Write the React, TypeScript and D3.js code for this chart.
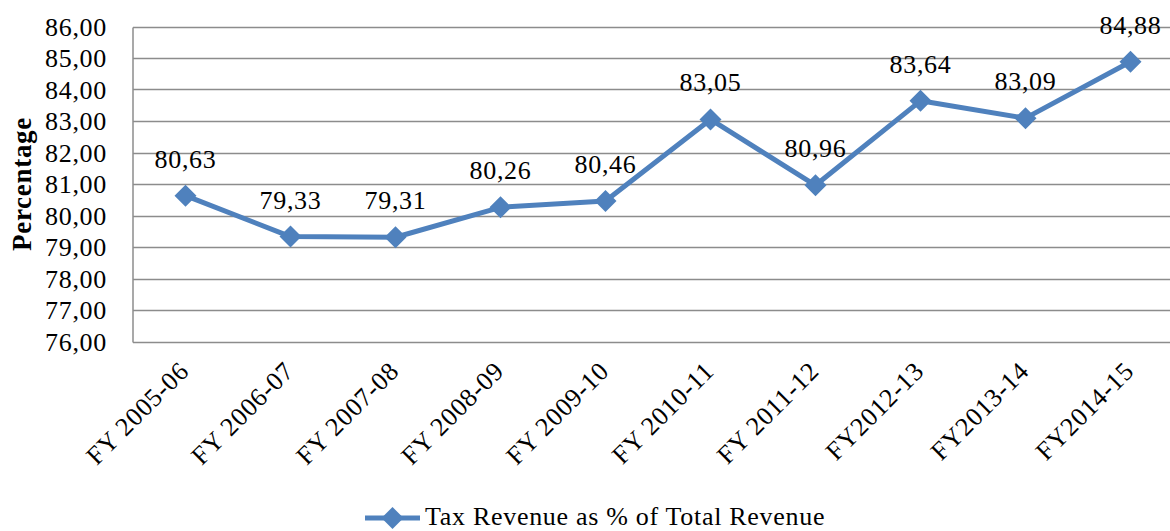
import { useRef, useEffect } from 'react';
import * as d3 from 'd3';

const categories = [
  'FY 2005-06',
  'FY 2006-07',
  'FY 2007-08',
  'FY 2008-09',
  'FY 2009-10',
  'FY 2010-11',
  'FY 2011-12',
  'FY2012-13',
  'FY2013-14',
  'FY2014-15',
];
const taxShare = [80.63, 79.33, 79.31, 80.26, 80.46, 83.05, 80.96, 83.64, 83.09, 84.88];
const yTicks = [76, 77, 78, 79, 80, 81, 82, 83, 84, 85, 86];
const seriesName = 'Tax Revenue as % of Total Revenue';

function App() {
  const svgRef = useRef<SVGSVGElement | null>(null);
  const width = 1170;
  const height = 531;

  useEffect(() => {
    const svg = d3.select(svgRef.current);
    svg.selectAll('*').remove();

    const margin = { top: 26.5, left: 133, bottom: 341.5 };
    const blue = '#4f81bd';
    const grid = '#8c8c8c';
    const font = '"Liberation Serif", "Times New Roman", serif';
    const fmt = (d: number) => d.toFixed(2).replace('.', ',');

    svg.style('font-family', font).style('letter-spacing', '0.7px');

    const x = d3
      .scaleBand()
      .domain(categories)
      .range([margin.left, margin.left + 1050]);

    const y = d3.scaleLinear().domain([76, 86]).range([margin.bottom, margin.top]);

    const cx = (d: string) => (x(d) ?? 0) + x.bandwidth() / 2;

    // grid lines
    svg
      .append('g')
      .selectAll('line')
      .data(yTicks)
      .join('line')
      .attr('x1', margin.left)
      .attr('x2', width)
      .attr('y1', (d) => Math.round(y(d)) + 0.5)
      .attr('y2', (d) => Math.round(y(d)) + 0.5)
      .attr('stroke', grid)
      .attr('stroke-width', 1.5);

    svg
      .append('line')
      .attr('x1', margin.left)
      .attr('x2', margin.left)
      .attr('y1', Math.round(y(86)) + 0.5)
      .attr('y2', Math.round(y(76)) + 0.5)
      .attr('stroke', grid)
      .attr('stroke-width', 1.5);

    // y tick labels
    svg
      .append('g')
      .selectAll('text')
      .data(yTicks)
      .join('text')
      .attr('x', 107)
      .attr('y', (d) => y(d))
      .attr('dy', '0.35em')
      .attr('text-anchor', 'end')
      .style('font-size', '26px')
      .attr('fill', '#000')
      .text((d) => fmt(d));

    svg
      .append('text')
      .attr('transform', `translate(31,${(margin.top + margin.bottom) / 2}) rotate(-90)`)
      .attr('text-anchor', 'middle')
      .style('font-size', '27px')
      .style('font-weight', 700)
      .text('Percentage');

    // x labels
    svg
      .append('g')
      .selectAll('text')
      .data(categories)
      .join('text')
      .attr('transform', (d) => `translate(${cx(d) + 5},${margin.bottom + 31}) rotate(-45)`)
      .attr('text-anchor', 'end')
      .style('font-size', '26px')
      .text((d) => d);

    const line = d3
      .line<number>()
      .x((_, i) => cx(categories[i]))
      .y((d) => y(d));

    svg
      .append('path')
      .datum(taxShare)
      .attr('fill', 'none')
      .attr('stroke', blue)
      .attr('stroke-width', 5)
      .attr('stroke-linejoin', 'round')
      .attr('d', line);

    const diamond = (s: number) => `M0,${-s}L${s},0L0,${s}L${-s},0Z`;

    svg
      .append('g')
      .selectAll('path')
      .data(taxShare)
      .join('path')
      .attr('transform', (d, i) => `translate(${cx(categories[i])},${y(d)})`)
      .attr('d', diamond(11))
      .attr('fill', blue);

    svg
      .append('g')
      .selectAll('text')
      .data(taxShare)
      .join('text')
      .attr('x', (_, i) => cx(categories[i]))
      .attr('y', (d) => y(d) - 28)
      .attr('text-anchor', 'middle')
      .style('font-size', '26px')
      .text((d) => fmt(d));

    // legend
    const lg = svg.append('g').attr('transform', 'translate(365,518)');
    lg.append('line')
      .attr('x1', 0)
      .attr('x2', 55)
      .attr('stroke', blue)
      .attr('stroke-width', 5);
    lg.append('path').attr('transform', 'translate(27.5,0)').attr('d', diamond(11)).attr('fill', blue);
    lg.append('text')
      .attr('x', 60)
      .attr('y', 7)
      .style('font-size', '26px')
      .text(seriesName);
  }, []);

  return (
    <svg
      ref={svgRef}
      width={width}
      height={height}
      style={{ position: 'absolute', left: 0, top: 0, background: '#fff' }}
    ></svg>
  );
}

export default App;
